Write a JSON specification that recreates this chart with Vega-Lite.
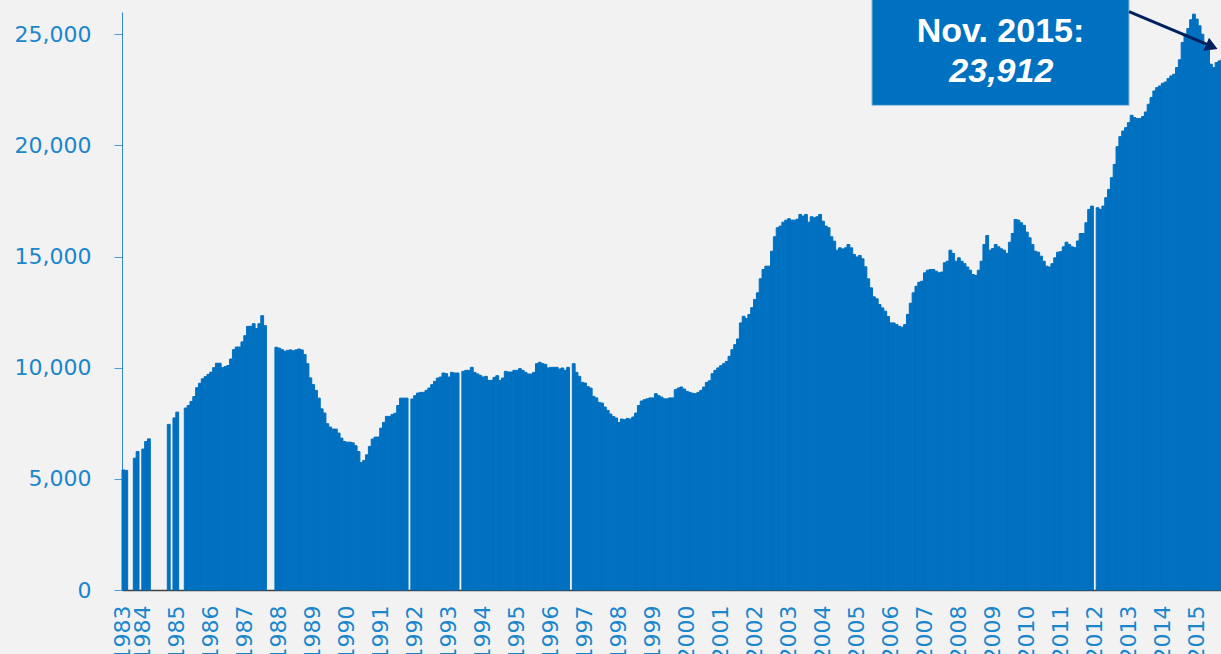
{
  "$schema": "https://vega.github.io/schema/vega-lite/v6.json",
  "width": 1099,
  "height": 578,
  "autosize": {"type": "none"},
  "padding": {"left": 122, "top": 12, "right": 0, "bottom": 64},
  "background": "#F2F2F2",
  "config": {"view": {"stroke": null}, "axis": {"grid": false}},
  "datasets": {
    "series": [
      {"m":"1983-06","v":5400},{"m":"1983-07","v":5380},{"m":"1983-08","v":null},{"m":"1983-09","v":null},{"m":"1983-10","v":5930},{"m":"1983-11","v":6230},{"m":"1983-12","v":null},
      {"m":"1984-01","v":6340},{"m":"1984-02","v":6680},{"m":"1984-03","v":6800},{"m":"1984-04","v":null},{"m":"1984-05","v":null},{"m":"1984-06","v":null},{"m":"1984-07","v":null},{"m":"1984-08","v":null},{"m":"1984-09","v":null},{"m":"1984-10","v":7450},{"m":"1984-11","v":null},{"m":"1984-12","v":7740},
      {"m":"1985-01","v":8000},{"m":"1985-02","v":null},{"m":"1985-03","v":null},{"m":"1985-04","v":8185},{"m":"1985-05","v":8300},{"m":"1985-06","v":8480},{"m":"1985-07","v":8700},{"m":"1985-08","v":9100},{"m":"1985-09","v":9300},{"m":"1985-10","v":9500},{"m":"1985-11","v":9600},{"m":"1985-12","v":9700},
      {"m":"1986-01","v":9800},{"m":"1986-02","v":10000},{"m":"1986-03","v":10200},{"m":"1986-04","v":10200},{"m":"1986-05","v":10000},{"m":"1986-06","v":10050},{"m":"1986-07","v":10100},{"m":"1986-08","v":10390},{"m":"1986-09","v":10810},{"m":"1986-10","v":10930},{"m":"1986-11","v":10930},{"m":"1986-12","v":11160},
      {"m":"1987-01","v":11440},{"m":"1987-02","v":11860},{"m":"1987-03","v":11860},{"m":"1987-04","v":11980},{"m":"1987-05","v":11760},{"m":"1987-06","v":11980},{"m":"1987-07","v":12340},{"m":"1987-08","v":11890},{"m":"1987-09","v":null},{"m":"1987-10","v":null},{"m":"1987-11","v":null},{"m":"1987-12","v":10920},
      {"m":"1988-01","v":10880},{"m":"1988-02","v":10810},{"m":"1988-03","v":10740},{"m":"1988-04","v":10780},{"m":"1988-05","v":10800},{"m":"1988-06","v":10760},{"m":"1988-07","v":10800},{"m":"1988-08","v":10840},{"m":"1988-09","v":10800},{"m":"1988-10","v":10590},{"m":"1988-11","v":10180},{"m":"1988-12","v":9540},
      {"m":"1989-01","v":9240},{"m":"1989-02","v":8980},{"m":"1989-03","v":8630},{"m":"1989-04","v":8150},{"m":"1989-05","v":7960},{"m":"1989-06","v":7480},{"m":"1989-07","v":7330},{"m":"1989-08","v":7240},{"m":"1989-09","v":7240},{"m":"1989-10","v":7060},{"m":"1989-11","v":6830},{"m":"1989-12","v":6680},
      {"m":"1990-01","v":6650},{"m":"1990-02","v":6650},{"m":"1990-03","v":6620},{"m":"1990-04","v":6490},{"m":"1990-05","v":6230},{"m":"1990-06","v":5730},{"m":"1990-07","v":5830},{"m":"1990-08","v":6080},{"m":"1990-09","v":6460},{"m":"1990-10","v":6790},{"m":"1990-11","v":6880},{"m":"1990-12","v":6880},
      {"m":"1991-01","v":7280},{"m":"1991-02","v":7540},{"m":"1991-03","v":7810},{"m":"1991-04","v":7810},{"m":"1991-05","v":7900},{"m":"1991-06","v":7950},{"m":"1991-07","v":8300},{"m":"1991-08","v":8630},{"m":"1991-09","v":8630},{"m":"1991-10","v":8630},{"m":"1991-11","v":null},{"m":"1991-12","v":8590},
      {"m":"1992-01","v":8740},{"m":"1992-02","v":8860},{"m":"1992-03","v":8890},{"m":"1992-04","v":8890},{"m":"1992-05","v":8980},{"m":"1992-06","v":9085},{"m":"1992-07","v":9235},{"m":"1992-08","v":9385},{"m":"1992-09","v":9535},{"m":"1992-10","v":9580},{"m":"1992-11","v":9760},{"m":"1992-12","v":9730},
      {"m":"1993-01","v":9580},{"m":"1993-02","v":9790},{"m":"1993-03","v":9760},{"m":"1993-04","v":9760},{"m":"1993-05","v":null},{"m":"1993-06","v":9836},{"m":"1993-07","v":9880},{"m":"1993-08","v":9880},{"m":"1993-09","v":10016},{"m":"1993-10","v":9790},{"m":"1993-11","v":9720},{"m":"1993-12","v":9656},
      {"m":"1994-01","v":9580},{"m":"1994-02","v":9610},{"m":"1994-03","v":9430},{"m":"1994-04","v":9430},{"m":"1994-05","v":9565},{"m":"1994-06","v":9640},{"m":"1994-07","v":9430},{"m":"1994-08","v":9535},{"m":"1994-09","v":9836},{"m":"1994-10","v":9806},{"m":"1994-11","v":9806},{"m":"1994-12","v":9880},
      {"m":"1995-01","v":9880},{"m":"1995-02","v":9956},{"m":"1995-03","v":9880},{"m":"1995-04","v":9790},{"m":"1995-05","v":9716},{"m":"1995-06","v":9716},{"m":"1995-07","v":9790},{"m":"1995-08","v":10180},{"m":"1995-09","v":10240},{"m":"1995-10","v":10180},{"m":"1995-11","v":10150},{"m":"1995-12","v":9990},
      {"m":"1996-01","v":10016},{"m":"1996-02","v":10016},{"m":"1996-03","v":10016},{"m":"1996-04","v":9940},{"m":"1996-05","v":9985},{"m":"1996-06","v":9880},{"m":"1996-07","v":10016},{"m":"1996-08","v":null},{"m":"1996-09","v":10180},{"m":"1996-10","v":9790},{"m":"1996-11","v":9610},{"m":"1996-12","v":9340},
      {"m":"1997-01","v":9310},{"m":"1997-02","v":9150},{"m":"1997-03","v":9085},{"m":"1997-04","v":8710},{"m":"1997-05","v":8640},{"m":"1997-06","v":8440},{"m":"1997-07","v":8410},{"m":"1997-08","v":8230},{"m":"1997-09","v":8080},{"m":"1997-10","v":7915},{"m":"1997-11","v":7800},{"m":"1997-12","v":7735},
      {"m":"1998-01","v":7538},{"m":"1998-02","v":7690},{"m":"1998-03","v":7660},{"m":"1998-04","v":7720},{"m":"1998-05","v":7690},{"m":"1998-06","v":7780},{"m":"1998-07","v":7960},{"m":"1998-08","v":8300},{"m":"1998-09","v":8500},{"m":"1998-10","v":8560},{"m":"1998-11","v":8600},{"m":"1998-12","v":8640},
      {"m":"1999-01","v":8640},{"m":"1999-02","v":8830},{"m":"1999-03","v":8740},{"m":"1999-04","v":8680},{"m":"1999-05","v":8600},{"m":"1999-06","v":8600},{"m":"1999-07","v":8640},{"m":"1999-08","v":8640},{"m":"1999-09","v":9010},{"m":"1999-10","v":9085},{"m":"1999-11","v":9130},{"m":"1999-12","v":9040},
      {"m":"2000-01","v":8935},{"m":"2000-02","v":8890},{"m":"2000-03","v":8850},{"m":"2000-04","v":8830},{"m":"2000-05","v":8890},{"m":"2000-06","v":8980},{"m":"2000-07","v":9130},{"m":"2000-08","v":9340},{"m":"2000-09","v":9410},{"m":"2000-10","v":9730},{"m":"2000-11","v":9880},{"m":"2000-12","v":9990},
      {"m":"2001-01","v":10090},{"m":"2001-02","v":10180},{"m":"2001-03","v":10280},{"m":"2001-04","v":10510},{"m":"2001-05","v":10812},{"m":"2001-06","v":11037},{"m":"2001-07","v":11293},{"m":"2001-08","v":12014},{"m":"2001-09","v":12314},{"m":"2001-10","v":12210},{"m":"2001-11","v":12390},{"m":"2001-12","v":12700},
      {"m":"2002-01","v":13065},{"m":"2002-02","v":13366},{"m":"2002-03","v":13997},{"m":"2002-04","v":14416},{"m":"2002-05","v":14566},{"m":"2002-06","v":14566},{"m":"2002-07","v":15241},{"m":"2002-08","v":15889},{"m":"2002-09","v":16295},{"m":"2002-10","v":16370},{"m":"2002-11","v":16547},{"m":"2002-12","v":16637},
      {"m":"2003-01","v":16700},{"m":"2003-02","v":16637},{"m":"2003-03","v":16637},{"m":"2003-04","v":16680},{"m":"2003-05","v":16894},{"m":"2003-06","v":16818},{"m":"2003-07","v":16894},{"m":"2003-08","v":16547},{"m":"2003-09","v":16790},{"m":"2003-10","v":16743},{"m":"2003-11","v":16790},{"m":"2003-12","v":16894},
      {"m":"2004-01","v":16592},{"m":"2004-02","v":16370},{"m":"2004-03","v":16295},{"m":"2004-04","v":15889},{"m":"2004-05","v":15691},{"m":"2004-06","v":15286},{"m":"2004-07","v":15390},{"m":"2004-08","v":15340},{"m":"2004-09","v":15390},{"m":"2004-10","v":15541},{"m":"2004-11","v":15390},{"m":"2004-12","v":15091},
      {"m":"2005-01","v":14980},{"m":"2005-02","v":15050},{"m":"2005-03","v":14898},{"m":"2005-04","v":14537},{"m":"2005-05","v":13997},{"m":"2005-06","v":13591},{"m":"2005-07","v":13186},{"m":"2005-08","v":13096},{"m":"2005-09","v":12839},{"m":"2005-10","v":12690},{"m":"2005-11","v":12540},{"m":"2005-12","v":12300},
      {"m":"2006-01","v":12014},{"m":"2006-02","v":12014},{"m":"2006-03","v":11940},{"m":"2006-04","v":11862},{"m":"2006-05","v":11820},{"m":"2006-06","v":11940},{"m":"2006-07","v":12400},{"m":"2006-08","v":12900},{"m":"2006-09","v":13366},{"m":"2006-10","v":13666},{"m":"2006-11","v":13845},{"m":"2006-12","v":13891},
      {"m":"2007-01","v":14266},{"m":"2007-02","v":14386},{"m":"2007-03","v":14416},{"m":"2007-04","v":14416},{"m":"2007-05","v":14340},{"m":"2007-06","v":14266},{"m":"2007-07","v":14300},{"m":"2007-08","v":14716},{"m":"2007-09","v":14790},{"m":"2007-10","v":15286},{"m":"2007-11","v":15140},{"m":"2007-12","v":14790},
      {"m":"2008-01","v":14940},{"m":"2008-02","v":14790},{"m":"2008-03","v":14680},{"m":"2008-04","v":14530},{"m":"2008-05","v":14386},{"m":"2008-06","v":14190},{"m":"2008-07","v":14150},{"m":"2008-08","v":14386},{"m":"2008-09","v":14790},{"m":"2008-10","v":15541},{"m":"2008-11","v":15947},{"m":"2008-12","v":15286},
      {"m":"2009-01","v":15360},{"m":"2009-02","v":15541},{"m":"2009-03","v":15436},{"m":"2009-04","v":15346},{"m":"2009-05","v":15286},{"m":"2009-06","v":15140},{"m":"2009-07","v":15646},{"m":"2009-08","v":16037},{"m":"2009-09","v":16668},{"m":"2009-10","v":16640},{"m":"2009-11","v":16518},{"m":"2009-12","v":16400},
      {"m":"2010-01","v":16097},{"m":"2010-02","v":15843},{"m":"2010-03","v":15541},{"m":"2010-04","v":15241},{"m":"2010-05","v":15196},{"m":"2010-06","v":15016},{"m":"2010-07","v":14790},{"m":"2010-08","v":14566},{"m":"2010-09","v":14530},{"m":"2010-10","v":14680},{"m":"2010-11","v":14940},{"m":"2010-12","v":15196},
      {"m":"2011-01","v":15220},{"m":"2011-02","v":15436},{"m":"2011-03","v":15646},{"m":"2011-04","v":15541},{"m":"2011-05","v":15436},{"m":"2011-06","v":15400},{"m":"2011-07","v":15700},{"m":"2011-08","v":16037},{"m":"2011-09","v":16037},{"m":"2011-10","v":16518},{"m":"2011-11","v":17119},{"m":"2011-12","v":17269},
      {"m":"2012-01","v":null},{"m":"2012-02","v":17195},{"m":"2012-03","v":17119},{"m":"2012-04","v":17269},{"m":"2012-05","v":17645},{"m":"2012-06","v":18020},{"m":"2012-07","v":18547},{"m":"2012-08","v":19146},{"m":"2012-09","v":19944},{"m":"2012-10","v":20394},{"m":"2012-11","v":20646},{"m":"2012-12","v":20797},
      {"m":"2013-01","v":21022},{"m":"2013-02","v":21354},{"m":"2013-03","v":21250},{"m":"2013-04","v":21205},{"m":"2013-05","v":21205},{"m":"2013-06","v":21300},{"m":"2013-07","v":21503},{"m":"2013-08","v":21850},{"m":"2013-09","v":22150},{"m":"2013-10","v":22449},{"m":"2013-11","v":22600},{"m":"2013-12","v":22675},
      {"m":"2014-01","v":22795},{"m":"2014-02","v":22850},{"m":"2014-03","v":23006},{"m":"2014-04","v":23126},{"m":"2014-05","v":23200},{"m":"2014-06","v":23500},{"m":"2014-07","v":23850},{"m":"2014-08","v":24628},{"m":"2014-09","v":25003},{"m":"2014-10","v":25259},{"m":"2014-11","v":25650},{"m":"2014-12","v":25904},
      {"m":"2015-01","v":25680},{"m":"2015-02","v":25379},{"m":"2015-03","v":25000},{"m":"2015-04","v":24477},{"m":"2015-05","v":24327},{"m":"2015-06","v":23651},{"m":"2015-07","v":23500},{"m":"2015-08","v":23726},{"m":"2015-09","v":23800},{"m":"2015-10","v":23850},{"m":"2015-11","v":23912}
    ],
    "note": [{"line1": "Nov. 2015:", "line2": "23,912"}]
  },
  "layer": [
    {
      "data": {"name": "series"},
      "layer": [
        {
          "mark": {"type": "tick", "opacity": 0},
          "encoding": {
            "x": {"field": "m", "type": "ordinal", "scale": {"range": [0, 1104.5], "paddingInner": 0, "paddingOuter": 0}}
          }
        },
        {
          "mark": {"type": "bar", "color": "#0070C0", "stroke": "#0070C0", "strokeWidth": 1},
          "encoding": {
            "x": {
              "field": "m", "type": "ordinal",
              "scale": {"range": [0, 1104.5], "paddingInner": 0, "paddingOuter": 0},
              "axis": {
                "title": null,
                "values": ["1983-06","1984-01","1985-01","1986-01","1987-01","1988-01","1989-01","1990-01","1991-01","1992-01","1993-01","1994-01","1995-01","1996-01","1997-01","1998-01","1999-01","2000-01","2001-01","2002-01","2003-01","2004-01","2005-01","2006-01","2007-01","2008-01","2009-01","2010-01","2011-01","2012-01","2013-01","2014-01","2015-01"],
                "labelExpr": "substring(datum.value, 0, 4)",
                "labelAngle": 270,
                "labelFont": "DejaVu Sans",
                "labelFontSize": 22,
                "labelColor": "#1A86CB",
                "labelPadding": 15,
                "labelOverlap": false,
                "labelBound": false,
                "labelFlush": false,
                "ticks": false,
                "tickSize": 0,
                "domainColor": "#404040",
                "domainWidth": 1.5
              }
            },
            "y": {
              "field": "v", "type": "quantitative",
              "scale": {"domain": [0, 26000], "nice": false},
              "axis": {
                "title": null,
                "values": [0, 5000, 10000, 15000, 20000, 25000],
                "format": ",d",
                "labelFont": "DejaVu Sans",
                "labelFontSize": 22,
                "labelColor": "#1A86CB",
                "labelPadding": 23,
                "tickSize": 8,
                "tickColor": "#4F9BD8",
                "domainColor": "#2F8AD3",
                "domainWidth": 1
              }
            }
          }
        }
      ]
    },
    {
      "data": {"name": "note"},
      "layer": [
        {
          "mark": {"type": "rect", "color": "#0070C0", "stroke": "#9DC3E6", "strokeWidth": 1},
          "encoding": {
            "x": {"datum": 264.8, "type": "quantitative", "scale": {"domain": [0, 390], "range": [0, 1104.5], "nice": false, "zero": false}, "axis": null},
            "x2": {"datum": 355.6},
            "y": {"datum": 26600, "type": "quantitative", "scale": {"domain": [0, 26000], "nice": false}},
            "y2": {"datum": 21800}
          }
        },
        {
          "mark": {"type": "rule", "color": "#002060", "strokeWidth": 3},
          "encoding": {
            "x": {"datum": 355.6, "type": "quantitative", "scale": {"domain": [0, 390], "range": [0, 1104.5], "nice": false, "zero": false}, "axis": null},
            "x2": {"datum": 384.6},
            "y": {"datum": 26012, "type": "quantitative"},
            "y2": {"datum": 24460}
          }
        },
        {
          "mark": {"type": "point", "shape": "triangle-right", "angle": 23, "size": 200, "filled": true, "color": "#002060", "opacity": 1},
          "encoding": {
            "x": {"datum": 384.85, "type": "quantitative", "scale": {"domain": [0, 390], "range": [0, 1104.5], "nice": false, "zero": false}, "axis": null},
            "y": {"datum": 24442, "type": "quantitative"}
          }
        },
        {
          "mark": {"type": "text", "font": "Liberation Sans", "fontSize": 34, "fontWeight": "bold", "color": "white", "align": "center", "baseline": "alphabetic"},
          "encoding": {
            "x": {"datum": 310.2, "type": "quantitative", "scale": {"domain": [0, 390], "range": [0, 1104.5], "nice": false, "zero": false}, "axis": null},
            "y": {"datum": 24663, "type": "quantitative"},
            "text": {"field": "line1"}
          }
        },
        {
          "mark": {"type": "text", "font": "Liberation Sans", "fontSize": 34, "fontWeight": "bold", "fontStyle": "italic", "color": "white", "align": "center", "baseline": "alphabetic"},
          "encoding": {
            "x": {"datum": 310.5, "type": "quantitative", "scale": {"domain": [0, 390], "range": [0, 1104.5], "nice": false, "zero": false}, "axis": null},
            "y": {"datum": 22863, "type": "quantitative"},
            "text": {"field": "line2"}
          }
        }
      ]
    }
  ],
  "resolve": {"scale": {"x": "independent"}, "axis": {"x": "independent"}}
}
